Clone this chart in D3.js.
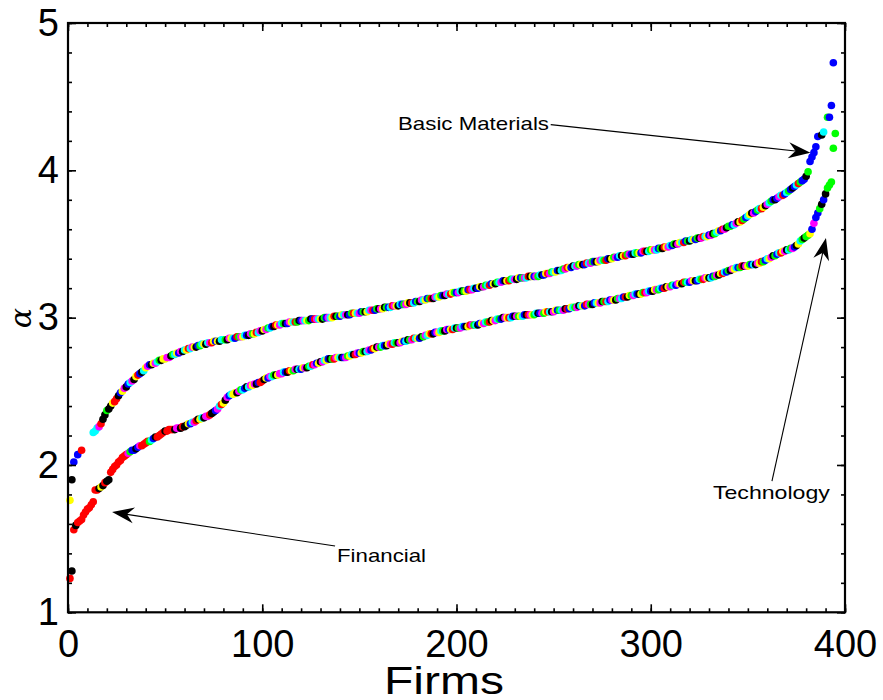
<!DOCTYPE html>
<html>
<head>
<meta charset="utf-8">
<script src="https://cdn.jsdelivr.net/npm/d3@7"></script>
<style>
  html, body { margin: 0; padding: 0; background: #fff; }
  svg { display: block; }
</style>
</head>
<body>
<div id="chart"></div>
<script>
// ---------------- DATA ----------------
// alpha values per firm rank (index 0 = firm 1); null = no point
const lowerAlpha = [
  1.23,1.28,1.56,1.59,1.61,1.62,1.63,1.66,1.68,1.70,
  1.71,1.73,1.75,1.83,1.83,1.84,1.85,1.86,1.88,1.89,
  1.90,1.95,1.97,1.99,2.00,2.02,2.03,2.05,2.06,2.07,
  2.08,2.09,2.10,2.10,2.11,2.12,2.13,2.13,2.14,2.15,
  2.16,2.16,2.17,2.18,2.19,2.19,2.20,2.21,2.22,2.23,
  2.23,2.24,2.24,2.24,2.24,2.25,2.25,2.25,2.26,2.26,
  2.27,2.28,2.28,2.29,2.29,2.30,2.31,2.31,2.32,2.32,
  2.33,2.33,2.34,2.35,2.36,2.37,2.38,2.40,2.41,2.42,
  2.44,2.46,2.47,2.48,2.48,2.49,2.49,2.50,2.51,2.51,
  2.52,2.53,2.53,2.54,2.54,2.55,2.55,2.56,2.56,2.57,
  2.58,2.59,2.59,2.60,2.60,2.61,2.61,2.61,2.62,2.62,
  2.63,2.63,2.63,2.64,2.64,2.64,2.65,2.65,2.65,2.65,
  2.66,2.66,2.66,2.67,2.67,2.68,2.68,2.69,2.69,2.70,
  2.70,2.71,2.71,2.72,2.72,2.72,2.72,2.73,2.73,2.73,
  2.73,2.73,2.73,2.74,2.74,2.75,2.75,2.75,2.76,2.76,
  2.76,2.77,2.77,2.77,2.78,2.78,2.79,2.79,2.80,2.80,
  2.80,2.81,2.81,2.81,2.82,2.82,2.82,2.83,2.83,2.83,
  2.83,2.84,2.84,2.84,2.85,2.85,2.85,2.86,2.86,2.86,
  2.86,2.87,2.87,2.88,2.88,2.89,2.89,2.89,2.90,2.90,
  2.90,2.91,2.91,2.91,2.92,2.92,2.92,2.92,2.93,2.93,
  2.93,2.93,2.94,2.94,2.94,2.94,2.95,2.95,2.95,2.95,
  2.95,2.96,2.96,2.96,2.97,2.97,2.97,2.98,2.98,2.98,
  2.99,2.99,2.99,3.00,3.00,3.00,3.00,3.00,3.01,3.01,
  3.01,3.01,3.01,3.01,3.02,3.02,3.02,3.02,3.02,3.02,
  3.03,3.03,3.03,3.03,3.03,3.04,3.04,3.04,3.04,3.04,
  3.05,3.05,3.05,3.05,3.05,3.06,3.06,3.06,3.07,3.07,
  3.07,3.07,3.08,3.08,3.08,3.08,3.09,3.09,3.09,3.09,
  3.10,3.10,3.10,3.10,3.11,3.11,3.11,3.11,3.12,3.12,
  3.12,3.12,3.13,3.13,3.13,3.14,3.14,3.14,3.15,3.15,
  3.15,3.16,3.16,3.16,3.16,3.17,3.17,3.17,3.18,3.18,
  3.18,3.19,3.19,3.19,3.20,3.20,3.20,3.21,3.21,3.21,
  3.22,3.22,3.22,3.23,3.23,3.23,3.24,3.24,3.24,3.24,
  3.25,3.25,3.25,3.25,3.26,3.26,3.26,3.27,3.27,3.27,
  3.27,3.28,3.28,3.29,3.29,3.30,3.30,3.31,3.31,3.32,
  3.32,3.33,3.33,3.34,3.34,3.34,3.35,3.35,3.35,3.35,
  3.36,3.36,3.36,3.36,3.37,3.37,3.38,3.38,3.39,3.40,
  3.40,3.41,3.42,3.42,3.43,3.44,3.44,3.45,3.45,3.46,
  3.46,3.47,3.47,3.48,3.49,3.50,3.52,3.53,3.54,3.55,
  3.56,3.57,3.60,3.64,3.68,3.71,3.74,3.77,3.80,3.84,
  3.88,3.90,3.92,4.15,4.25
];
const upperAlpha = [
  1.76,1.90,2.02,null,2.07,null,2.10,null,null,null,
  null,null,2.22,2.23,2.25,2.26,2.28,2.31,2.34,2.37,
  2.38,2.40,2.42,2.43,2.45,2.47,2.49,2.50,2.52,2.53,
  2.55,2.56,2.57,2.58,2.60,2.61,2.62,2.63,2.64,2.66,
  2.67,2.68,2.68,2.69,2.69,2.70,2.71,2.71,2.72,2.72,
  2.73,2.73,2.74,2.75,2.75,2.76,2.76,2.77,2.77,2.78,
  2.78,2.79,2.79,2.80,2.80,2.80,2.81,2.81,2.82,2.82,
  2.82,2.83,2.83,2.83,2.84,2.84,2.84,2.84,2.85,2.85,
  2.85,2.85,2.86,2.86,2.86,2.86,2.87,2.87,2.87,2.87,
  2.88,2.88,2.88,2.89,2.89,2.89,2.90,2.90,2.91,2.91,
  2.92,2.92,2.93,2.93,2.94,2.94,2.95,2.95,2.95,2.96,
  2.96,2.96,2.96,2.97,2.97,2.97,2.97,2.97,2.98,2.98,
  2.98,2.98,2.98,2.98,2.99,2.99,2.99,2.99,2.99,2.99,
  2.99,3.00,3.00,3.00,3.00,3.00,3.01,3.01,3.01,3.01,
  3.02,3.02,3.02,3.02,3.02,3.03,3.03,3.03,3.03,3.03,
  3.04,3.04,3.04,3.04,3.05,3.05,3.05,3.05,3.06,3.06,
  3.06,3.06,3.07,3.07,3.07,3.07,3.08,3.08,3.08,3.08,
  3.09,3.09,3.09,3.09,3.10,3.10,3.10,3.10,3.11,3.11,
  3.11,3.12,3.12,3.12,3.13,3.13,3.13,3.13,3.14,3.14,
  3.14,3.15,3.15,3.15,3.16,3.16,3.16,3.17,3.17,3.17,
  3.17,3.18,3.18,3.18,3.18,3.19,3.19,3.19,3.20,3.20,
  3.20,3.21,3.21,3.21,3.22,3.22,3.22,3.23,3.23,3.23,
  3.24,3.24,3.24,3.25,3.25,3.25,3.25,3.26,3.26,3.26,
  3.26,3.27,3.27,3.27,3.27,3.27,3.28,3.28,3.28,3.28,
  3.28,3.28,3.29,3.29,3.29,3.30,3.30,3.30,3.31,3.31,
  3.31,3.32,3.32,3.32,3.33,3.33,3.34,3.34,3.34,3.35,
  3.35,3.35,3.36,3.36,3.36,3.36,3.37,3.37,3.37,3.38,
  3.38,3.38,3.38,3.39,3.39,3.39,3.39,3.40,3.40,3.40,
  3.41,3.41,3.41,3.42,3.42,3.42,3.42,3.43,3.43,3.43,
  3.43,3.44,3.44,3.44,3.44,3.45,3.45,3.45,3.45,3.46,
  3.46,3.46,3.46,3.47,3.47,3.47,3.48,3.48,3.48,3.49,
  3.49,3.50,3.50,3.50,3.51,3.51,3.51,3.52,3.52,3.52,
  3.53,3.53,3.53,3.54,3.54,3.54,3.55,3.55,3.55,3.56,
  3.56,3.57,3.57,3.58,3.59,3.59,3.60,3.60,3.61,3.62,
  3.62,3.63,3.63,3.64,3.65,3.65,3.66,3.67,3.68,3.69,
  3.70,3.71,3.71,3.72,3.73,3.74,3.74,3.75,3.76,3.77,
  3.78,3.79,3.80,3.80,3.81,3.82,3.83,3.83,3.84,3.85,
  3.86,3.87,3.88,3.89,3.90,3.91,3.92,3.93,3.94,3.96,
  3.99,4.06,4.09,4.12,4.16,4.23,null,4.24,4.26,null,
  4.36,4.36,4.44,4.73
];
// sector code of each firm (one letter per firm, same order as the values)
const lowerSector = [
  "rkrkrrrrrr","rrrrrkykrk","krrrrrrrrr","mgbbkbmrrr","rgcbkrrrrk",
  "rrrrkmmkrk","kybcmrkyck","mmrkkbmcry","kmbcyykmgc","bkcmymkbrr",
  "kybmcgkymm","cbkrygmkcb","ymkgcrmbyk","mcybkgrmyc","kbmgyckrmb",
  "ygkcmbrykm","gcbkymrcgk","mybckgmrcy","bkgmcyrkbm","ycgkmbyrck",
  "gmcbkyrmgc","kbymcgrkym","cgbkmyrcbk","mgycbkrmyg","ckbmgyrckm",
  "ybgcmkrbyc","gmkcybrmgk","bcymkgrcbm","ykgmcbrkyg","mcbkygrmcb",
  "kymgcbrkym","gcbmykrgcb","mykbcgrmyk","cbgmkyrcbg","kmycbgrkmy",
  "gbckmyrgbc","ymkgbcrymk","cgmbkycgkg","gybmbbgkbk","ggggg"
].join("");
const upperSector = [
  "ykbbbrrrrr","cccccmrkkg","kkyrrkbymk","bcmkyrbkcy","mbkymcgkyy",
  "mmkgcybmkc","yrcmykbgcy","kcmrybykcc","gkmycbrgmy","cbkmgyrcmk",
  "ymgcbkrymc","gkbmycrgkb","mcygkbrmcy","kgbmcyrkgb","ycmkbgrycm",
  "bgkycmrbgk","mykgbcrmyk","cbgmykrcbg","kmcybgrkmc","ygbkmcrygb",
  "mckgybrmck","bykmgcrbyk","gcmbkyrgcm","kybgmcrkyb","mgckbyrmgc",
  "ybkcgmrybk","cmgykbrcmg","bkymcgrbky","gmbckyrgmb","kcgybmrkcg",
  "ymcbgkrymc","bgkmycrbgk","cybgkmrcyb","mkgcybrmkg","gbcmkyrgbc",
  "ykmbgcrykm","cgbkbmcrbc","gbkbcrgbbk","gbbbbbkkcc","gbbb"
].join("");
const sectorCodes  = ["r","k","b","y","m","c","g"];
const sectorNames  = ["Financial","Services","Basic Materials","Consumer Goods","Industrial Goods","Healthcare","Technology"];
const sectorColors = ["#ff0000","#000000","#0000ff","#ffff00","#ff00ff","#00ffff","#00ff00"];

const xTicksMajor = [0,100,200,300,400];
const yTicksMajor = [1,2,3,4,5];
const xLabel = "Firms";
const yLabel = "α";

// annotations in data coordinates: text anchor (tx,ty), line start (lx,ly), arrow tip (ax,ay)
const annotations = [
  {text:"Basic Materials", tx:169.9, ty:4.272, tw:151, lx:248.5, ly:4.31, ax:382.2, ay:4.12},
  {text:"Technology",      tx:332.0, ty:1.77,  tw:117, lx:362.4, ly:1.89, ax:390.2, ay:3.54},
  {text:"Financial",       tx:138.5, ty:1.342, tw:89,  lx:137.5, ly:1.45, ax:22.7,  ay:1.68}
];

// ---------------- CHART ----------------
const W = 883, H = 700;
const svg = d3.select("#chart").append("svg").attr("width", W).attr("height", H)
  .style("font-family", "'Liberation Sans', Arial, Helvetica, sans-serif");

const x = d3.scaleLinear().domain([0, 400]).range([68, 845]);
const y = d3.scaleLinear().domain([1, 5]).range([612.3, 23]);
const color = d3.scaleOrdinal().domain(sectorCodes).range(sectorColors);

function toPoints(vals, sectors) {
  const pts = [];
  vals.forEach((v, i) => { if (v !== null) pts.push({firm: i + 1, alpha: v, sector: sectors[i]}); });
  return pts;
}
const upperPts = toPoints(upperAlpha, upperSector);
const lowerPts = toPoints(lowerAlpha, lowerSector);

const dots = svg.append("g");
[upperPts, lowerPts].forEach(pts => {
  dots.append("g").selectAll("circle").data(pts).join("circle")
    .attr("cx", d => x(d.firm)).attr("cy", d => y(d.alpha))
    .attr("r", 3.8).attr("fill", d => color(d.sector));
});

// axes (ticks inward, mirrored on all four sides)
function styleAxis(g) {
  g.select(".domain").remove();
  g.selectAll(".tick line").attr("stroke", "#000").attr("stroke-width", 1.6);
  g.selectAll("text").attr("fill", "#000");
}
const fontSize = 38;
const minorX = d3.range(0, 401, 10);
const minorY = d3.range(1, 5.001, 0.2);

svg.append("g").attr("transform", `translate(0,${y(1)})`)
  .call(d3.axisBottom(x).tickValues(minorX).tickSize(-4).tickFormat("")).call(styleAxis);
svg.append("g").attr("transform", `translate(0,${y(1)})`)
  .call(d3.axisBottom(x).tickValues(xTicksMajor).tickSize(-8).tickPadding(18).tickFormat(d3.format("d")))
  .call(styleAxis).selectAll("text").style("font-size", fontSize + "px");
svg.append("g").attr("transform", `translate(0,${y(5)})`)
  .call(d3.axisTop(x).tickValues(minorX).tickSize(-4).tickFormat("")).call(styleAxis);
svg.append("g").attr("transform", `translate(0,${y(5)})`)
  .call(d3.axisTop(x).tickValues(xTicksMajor).tickSize(-8).tickFormat("")).call(styleAxis);

svg.append("g").attr("transform", `translate(${x(0)},0)`)
  .call(d3.axisLeft(y).tickValues(minorY).tickSize(-4).tickFormat("")).call(styleAxis);
svg.append("g").attr("transform", `translate(${x(0)},0)`)
  .call(d3.axisLeft(y).tickValues(yTicksMajor).tickSize(-8).tickPadding(9).tickFormat(d3.format("d")))
  .call(styleAxis).selectAll("text").style("font-size", fontSize + "px");
svg.append("g").attr("transform", `translate(${x(400)},0)`)
  .call(d3.axisRight(y).tickValues(minorY).tickSize(-4).tickFormat("")).call(styleAxis);
svg.append("g").attr("transform", `translate(${x(400)},0)`)
  .call(d3.axisRight(y).tickValues(yTicksMajor).tickSize(-8).tickFormat("")).call(styleAxis);

// frame
svg.append("rect")
  .attr("x", x(0)).attr("y", y(5))
  .attr("width", x(400) - x(0)).attr("height", y(1) - y(5))
  .attr("fill", "none").attr("stroke", "#000").attr("stroke-width", 2.2);

// axis titles
svg.append("text").attr("x", 444).attr("y", 694).attr("text-anchor", "middle")
  .attr("textLength", 120).attr("lengthAdjust", "spacingAndGlyphs")
  .style("font-size", "38px").text(xLabel);
svg.append("text").attr("transform", "translate(31,318) rotate(-90)")
  .attr("text-anchor", "middle")
  .style("font-family", "'DejaVu Serif', 'Liberation Serif', serif")
  .style("font-style", "italic").style("font-size", "30px").text(yLabel);

// annotations with arrows
const ann = svg.append("g");
annotations.forEach(a => {
  const x1 = x(a.lx), y1 = y(a.ly), x2 = x(a.ax), y2 = y(a.ay);
  const ang = Math.atan2(y2 - y1, x2 - x1);
  const L = 22, Wd = 8, N = 15;
  const ux = Math.cos(ang), uy = Math.sin(ang);
  const bx = x2 - ux * L, by = y2 - uy * L;
  const nx = x2 - ux * N, ny = y2 - uy * N;
  ann.append("line").attr("x1", x1).attr("y1", y1).attr("x2", nx).attr("y2", ny)
    .attr("stroke", "#000").attr("stroke-width", 1.1);
  ann.append("path")
    .attr("d", `M${x2},${y2} L${bx - uy * Wd},${by + ux * Wd} L${nx},${ny} L${bx + uy * Wd},${by - ux * Wd} Z`)
    .attr("fill", "#000");
  ann.append("text").attr("x", x(a.tx)).attr("y", y(a.ty))
    .attr("textLength", a.tw).attr("lengthAdjust", "spacingAndGlyphs")
    .style("font-size", "19px").text(a.text);
});
</script>
</body>
</html>
